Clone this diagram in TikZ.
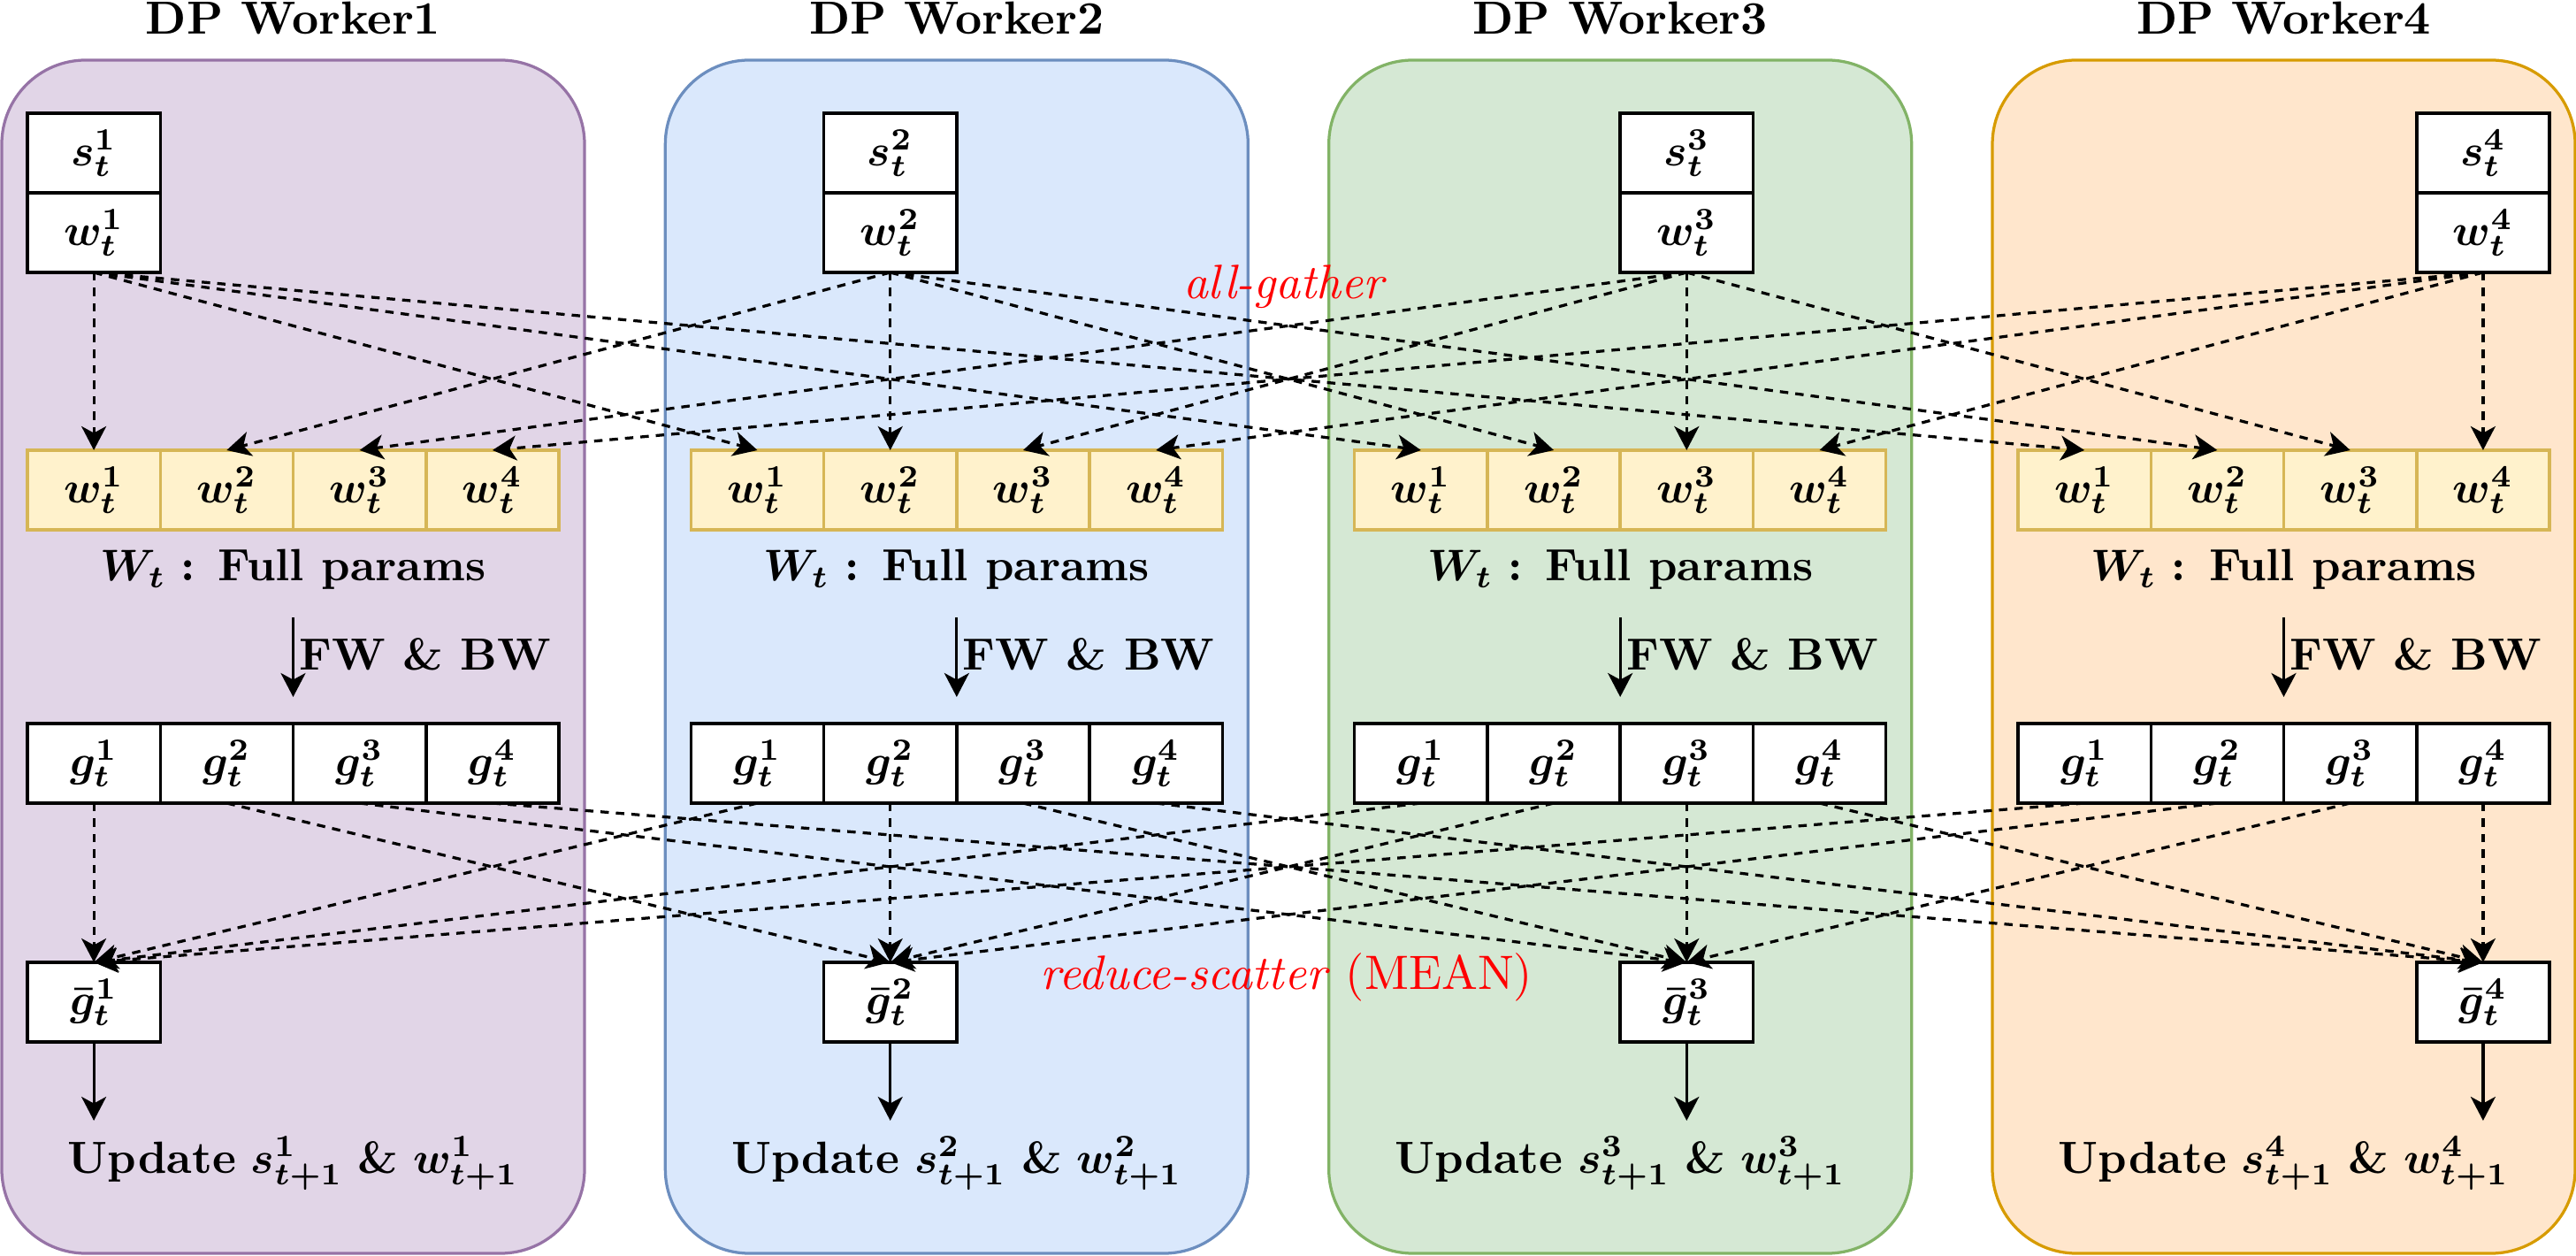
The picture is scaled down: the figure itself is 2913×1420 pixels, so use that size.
\documentclass[tikz,border=0pt]{standalone}
\usepackage{amsmath,bm}
\usetikzlibrary{arrows.meta}
\definecolor{pfill}{HTML}{E1D5E7}\definecolor{pdraw}{HTML}{9673A6}
\definecolor{bfill}{HTML}{DAE8FC}\definecolor{bdraw}{HTML}{6C8EBF}
\definecolor{gfill}{HTML}{D5E8D4}\definecolor{gdraw}{HTML}{82B366}
\definecolor{ofill}{HTML}{FFE6CC}\definecolor{odraw}{HTML}{D79B00}
\definecolor{yfill}{HTML}{FFF2CC}\definecolor{ydraw}{HTML}{D6B656}
\begin{document}
\begin{tikzpicture}[x=0.2pt,y=-0.2pt,
  font=\fontsize{10.2}{12}\selectfont,
  workerbox/.style={line width=0.65pt, rounded corners=19pt, minimum width=131.8pt, minimum height=269.8pt, inner sep=0pt},
  cellbox/.style={draw=black, fill=white, line width=0.7pt, minimum width=30.05pt, minimum height=18pt, inner sep=0pt, outer sep=0pt},
  ycell/.style={cellbox, draw=ydraw, fill=yfill},
  tipstyle/.style={-{Stealth[length=5.4pt,width=5.6pt,inset=1.5pt]}},
  dline/.style={tipstyle, dash pattern=on 1.9pt off 1.6pt, line width=0.65pt},
  sline/.style={tipstyle, line width=0.65pt},
  lab/.style={inner sep=0pt, anchor=base},
  titlefont/.style={font=\fontsize{10.5}{12}\selectfont\bfseries},
  redlab/.style={lab, text=red, font=\fontsize{10.9}{12}\selectfont},
]
\useasboundingbox (0,0) rectangle (2913,1420);
\foreach \k/\fc/\dc in {1/pfill/pdraw, 2/bfill/bdraw, 3/gfill/gdraw, 4/ofill/odraw}{
  \pgfmathsetmacro{\L}{2+750.33*(\k-1)}
  \pgfmathsetmacro{\C}{\L+329.5}
  \pgfmathsetmacro{\X}{\L+29+150.25*(\k-0.5)}
  \node[workerbox, draw=\dc, fill=\fc] (W\k) at (\C,742.5) {};
  \node[lab, titlefont] (T\k) at (\C,39) {DP Worker\k};
  \node[cellbox] (s\k) at (\X,173) {$\boldsymbol{s_t^{\k}}$};
  \node[cellbox] (w\k) at (\X,263) {$\boldsymbol{w_t^{\k}}$};
  \foreach \j in {1,...,4}{
    \node[ycell] (y\k-\j) at ({\L+29+150.25*(\j-0.5)},554) {$\boldsymbol{w_t^{\j}}$};
    \node[cellbox] (g\k-\j) at ({\L+29+150.25*(\j-0.5)},863) {$\boldsymbol{g_t^{\j}}$};
  }
  \node[lab] (Wt\k) at (\C,657) {$\boldsymbol{W_t}$ \textbf{: Full params}};
  \coordinate (fa\k) at (\C,698);
  \coordinate (fb\k) at (\C,788);
  \draw[sline] (fa\k) -- (fb\k);
  \node[lab, anchor=base west] (fw\k) at (\C+6,758) {\textbf{FW \& BW}};
  \node[cellbox] (gb\k) at (\X,1133) {$\boldsymbol{\bar{g}_t^{\k}}$};
  \coordinate (ue\k) at (\X,1267);
  \draw[sline] (gb\k.south) -- (ue\k);
  \node[lab] (up\k) at (\C,1326) {\textbf{Update} $\boldsymbol{s^{\k}_{t+1}}$ \textbf{\&} $\boldsymbol{w^{\k}_{t+1}}$};
}
\foreach \i in {1,...,4}{
  \foreach \j in {1,...,4}{
    \draw[dline] (w\i.south) -- (y\j-\i.north);
    \draw[dline] (g\j-\i.south) -- (gb\i.north);
  }
}
\node[redlab] (ag) at (1453,338) {\textit{all-gather}};
\node[redlab] (rs) at (1455,1119) {\textit{reduce-scatter} (MEAN)};
\end{tikzpicture}
\end{document}
